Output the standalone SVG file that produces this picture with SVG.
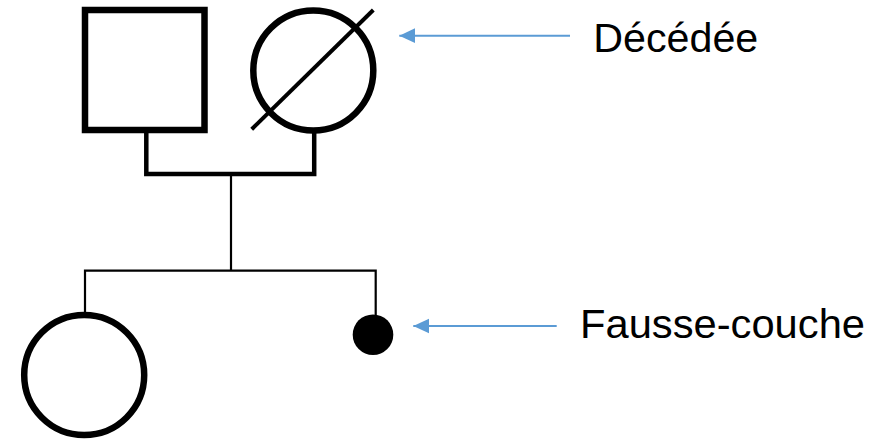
<svg xmlns="http://www.w3.org/2000/svg" width="877" height="439" viewBox="0 0 877 439">
  <style>
    .sym { fill: #ffffff; stroke: #000000; stroke-width: 6.5; }
    .dot { fill: #000000; stroke: none; }
    .couple { fill: none; stroke: #000000; stroke-width: 4.5; }
    .line { fill: none; stroke: #000000; stroke-width: 2.2; }
    .note { fill: none; stroke: #5B9BD5; stroke-width: 2; }
    .label { font-family: "Liberation Sans", Arial, sans-serif; font-size: 40px; fill: #000000; }
  </style>
  <defs>
    <marker id="head" markerUnits="userSpaceOnUse" markerWidth="16" markerHeight="16" refX="16" refY="8" orient="auto" viewBox="0 0 16 16">
      <path d="M0,0.5 L16,8 L0,15.5 Z" fill="#5B9BD5"/>
    </marker>
  </defs>

  <rect width="877" height="439" fill="#ffffff"/>

  <!-- connectors -->
  <g id="connectors">
    <path class="couple" d="M146.3,130 V174 H314.2 V130"/>
    <path class="line" d="M231,174 V270.7"/>
    <path class="line" d="M85,312.7 V270.7 H375.7 V315"/>
    <line class="note" x1="570" y1="35.7" x2="399.3" y2="35.7" marker-end="url(#head)"/>
    <line class="note" x1="556.7" y1="326" x2="413.3" y2="326" marker-end="url(#head)"/>
  </g>

  <!-- father -->
  <g id="father">
    <rect class="sym" x="85" y="10" width="119.5" height="120"/>
  </g>

  <!-- mother, deceased -->
  <g id="mother">
    <circle class="sym" cx="313.3" cy="70.5" r="60"/>
    <line x1="251.7" y1="129.3" x2="373.3" y2="10" stroke="#000000" stroke-width="4"/>
  </g>

  <!-- daughter -->
  <g id="daughter">
    <circle class="sym" cx="84.2" cy="375" r="60"/>
  </g>

  <!-- miscarriage -->
  <g id="miscarriage">
    <circle class="dot" cx="373" cy="334.7" r="20.3"/>
  </g>

  <!-- labels -->
  <g id="label-deceased">
    <text class="label" x="593.3" y="51.7" textLength="165" lengthAdjust="spacingAndGlyphs">Décédée</text>
  </g>
  <g id="label-miscarriage">
    <text class="label" x="580" y="338.3" textLength="285" lengthAdjust="spacingAndGlyphs">Fausse-couche</text>
  </g>
</svg>
